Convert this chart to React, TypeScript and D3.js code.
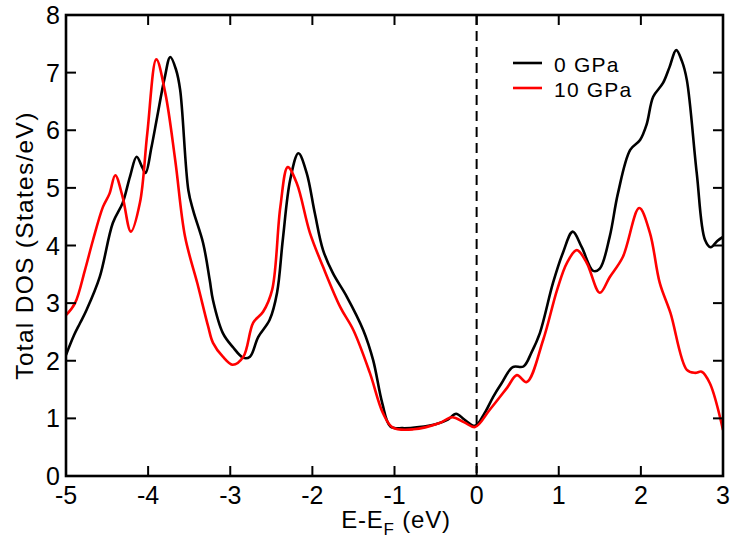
import React from "react";
import * as d3 from "d3";

const xTicks = [-5, -4, -3, -2, -1, 0, 1, 2, 3];
const yTicks = [0, 1, 2, 3, 4, 5, 6, 7, 8];
const seriesNames = ["0 GPa", "10 GPa"];
const seriesColors = ["#000000", "#ff0000"];

const energy0 = [
  -5.0, -4.9, -4.83, -4.75, -4.59, -4.43, -4.31, -4.22, -4.14, -4.07, -4.03, -3.96, -3.89, -3.8, -3.73,
  -3.66, -3.61, -3.51, -3.45, -3.33, -3.25, -3.21, -3.09, -2.97, -2.84, -2.76, -2.66, -2.52, -2.43,
  -2.36, -2.27, -2.17, -2.07, -1.97, -1.87, -1.75, -1.58, -1.38, -1.26, -1.15, -1.05, -0.9, -0.7, -0.5,
  -0.35, -0.25, -0.15, -0.02, 0.1, 0.2, 0.3, 0.44, 0.57, 0.67, 0.77, 0.93, 1.05, 1.17, 1.28, 1.42, 1.5,
  1.62, 1.72, 1.87, 1.99, 2.07, 2.15, 2.27, 2.35, 2.43, 2.5, 2.56, 2.68, 2.78, 2.85, 2.93, 3.0,
];
const dos0 = [
  2.1, 2.45, 2.65, 2.88, 3.45, 4.39, 4.74, 5.2, 5.54, 5.35, 5.26, 5.7, 6.23, 6.9, 7.27,
  7.05, 6.7, 4.96, 4.6, 4.04, 3.4, 3.05, 2.48, 2.24, 2.05, 2.07, 2.41, 2.71, 3.18,
  4.1, 5.14, 5.6, 5.26, 4.56, 3.92, 3.52, 3.11, 2.53, 2.01, 1.27, 0.86, 0.83, 0.85, 0.9,
  0.98, 1.08, 0.98, 0.87, 1.1, 1.37, 1.6, 1.89, 1.9, 2.15, 2.48, 3.35, 3.87, 4.24, 3.97, 3.56, 3.6,
  4.15, 4.9, 5.66, 5.83, 6.1, 6.58, 6.82, 7.1, 7.39, 7.2, 6.87, 5.26, 4.1, 3.97, 4.08, 4.15,
];

const energy10 = [
  -5.0, -4.89, -4.77, -4.67, -4.55, -4.47, -4.4, -4.31, -4.21, -4.1, -4.01, -3.9, -3.79, -3.67, -3.55,
  -3.4, -3.27, -3.21, -3.09, -2.97, -2.84, -2.72, -2.6, -2.49, -2.39, -2.3, -2.19, -2.03, -1.87, -1.66,
  -1.5, -1.3, -1.14, -1.02, -0.77, -0.45, -0.3, -0.15, -0.02, 0.16, 0.37, 0.49, 0.61, 0.81, 0.98, 1.1,
  1.22, 1.34, 1.5, 1.62, 1.78, 1.98, 2.11, 2.23, 2.36, 2.56, 2.66, 2.74, 2.84, 3.0,
];
const dos10 = [
  2.79, 3.0, 3.57, 4.1, 4.67, 4.9, 5.22, 4.84, 4.24, 4.74, 5.95, 7.23, 6.64, 5.48, 4.15,
  3.34, 2.6, 2.31, 2.07, 1.93, 2.07, 2.66, 2.85, 3.23, 4.67, 5.36, 5.08, 4.22, 3.63, 2.93,
  2.53, 1.79, 1.09, 0.84, 0.81, 0.92, 1.02, 0.93, 0.85, 1.15, 1.53, 1.75, 1.63, 2.36, 3.23, 3.7,
  3.92, 3.7, 3.18, 3.45, 3.8, 4.65, 4.22, 3.35, 2.83, 1.84, 1.79, 1.81, 1.61, 0.8,
];

const W = 730;
const H = 543;
const left = 66;
const right = 723;
const top = 15;
const bottom = 476;
const font = "'Liberation Sans', Arial, Helvetica, sans-serif";

export default function App() {
  const x = d3.scaleLinear().domain([-5, 3]).range([left, right]);
  const y = d3.scaleLinear().domain([0, 8]).range([bottom, top]);
  const line = d3
    .line<[number, number]>()
    .x((d) => x(d[0]))
    .y((d) => y(d[1]))
    .curve(d3.curveCatmullRom.alpha(0.5));

  const series = [
    energy0.map((e, i) => [e, dos0[i]] as [number, number]),
    energy10.map((e, i) => [e, dos10[i]] as [number, number]),
  ];
  const tickLen = 10;

  return (
    <svg
      width={W}
      height={H}
      style={{ position: "absolute", left: 0, top: 0, background: "#fff" }}
      fontFamily={font}
    >
      <defs>
        <clipPath id="plotclip">
          <rect x={left} y={top} width={right - left} height={bottom - top} />
        </clipPath>
      </defs>
      <rect x={0} y={0} width={W} height={H} fill="#fff" />

      {/* dashed Fermi line */}
      <line
        x1={x(0)}
        x2={x(0)}
        y1={top}
        y2={bottom}
        stroke="#000"
        strokeWidth={2}
        strokeDasharray="10,6"
      />

      <g clipPath="url(#plotclip)">
        {series.map((s, i) => (
          <path
            key={i}
            d={line(s) || ""}
            fill="none"
            stroke={seriesColors[i]}
            strokeWidth={2.6}
            strokeLinejoin="round"
          />
        ))}
      </g>

      {/* ticks */}
      {xTicks.map((t) => (
        <g key={"xt" + t}>
          <line x1={x(t)} x2={x(t)} y1={bottom} y2={bottom - tickLen} stroke="#000" strokeWidth={2} />
          <line x1={x(t)} x2={x(t)} y1={top} y2={top + tickLen} stroke="#000" strokeWidth={2} />
          <text x={x(t)} y={504} textAnchor="middle" fontSize={25} fill="#000">
            {t}
          </text>
        </g>
      ))}
      {yTicks.map((t) => (
        <g key={"yt" + t}>
          <line x1={left} x2={left + tickLen} y1={y(t)} y2={y(t)} stroke="#000" strokeWidth={2} />
          <line x1={right} x2={right - tickLen} y1={y(t)} y2={y(t)} stroke="#000" strokeWidth={2} />
          <text x={60} y={y(t) + 9} textAnchor="end" fontSize={25} fill="#000">
            {t}
          </text>
        </g>
      ))}

      {/* frame */}
      <rect
        x={left}
        y={top}
        width={right - left}
        height={bottom - top}
        fill="none"
        stroke="#000"
        strokeWidth={2.6}
      />

      {/* axis titles */}
      <text x={396} y={528} textAnchor="middle" fontSize={24} letterSpacing={0.8} fill="#000">
        E-E
        <tspan fontSize={17} dy={7}>F</tspan>
        <tspan dy={-7}> (eV)</tspan>
      </text>
      <text
        transform={`translate(33,${(108 + 383) / 2}) rotate(-90)`}
        textAnchor="middle"
        fontSize={24.5}
        letterSpacing={1.3}
        fill="#000"
      >
        Total DOS (States/eV)
      </text>

      {/* legend */}
      {seriesNames.map((n, i) => (
        <g key={n}>
          <line
            x1={513}
            x2={542}
            y1={63 + i * 25}
            y2={63 + i * 25}
            stroke={seriesColors[i]}
            strokeWidth={2.6}
          />
          <text x={554} y={72 + i * 25} fontSize={21} letterSpacing={1.2} fill="#000">
            {n}
          </text>
        </g>
      ))}
    </svg>
  );
}
